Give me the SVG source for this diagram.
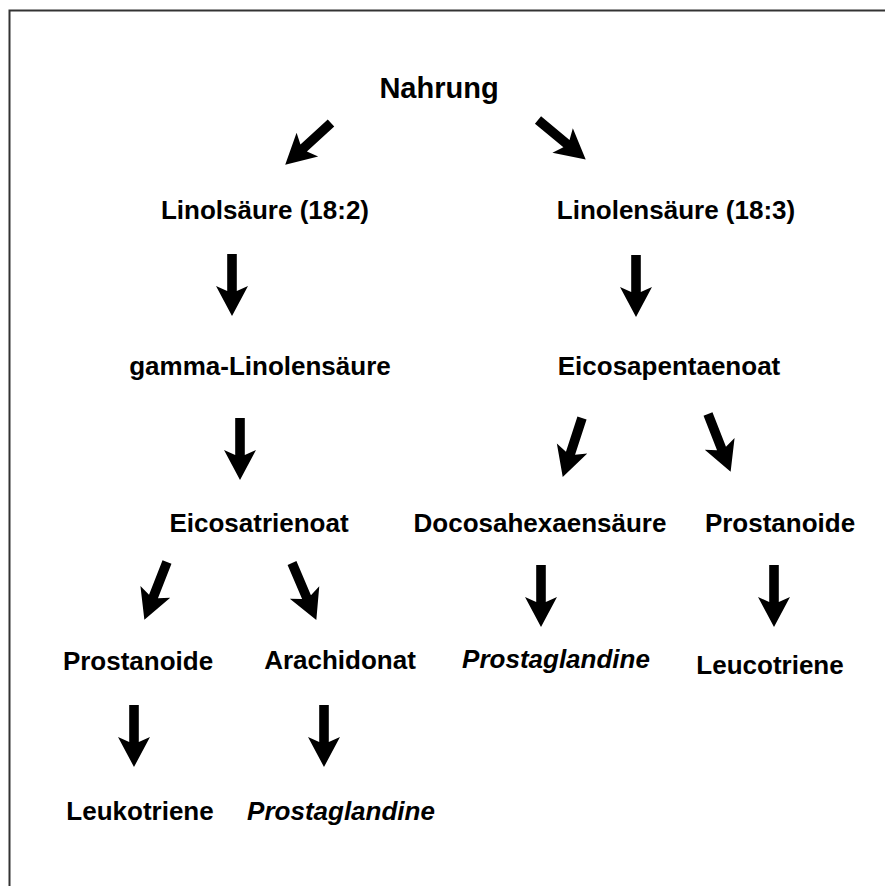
<svg xmlns="http://www.w3.org/2000/svg" xmlns:xlink="http://www.w3.org/1999/xlink" width="885" height="886" viewBox="0 0 885 886">
<style>
text{font-family:"Liberation Sans",Arial,Helvetica,sans-serif;font-weight:bold;font-size:26px;fill:#000;text-anchor:middle}
.it{font-style:italic}
.big{font-size:29px}
.frame{stroke:#333;stroke-width:2;fill:none}
.arr{fill:#000}
</style>
<defs>
<path id="ar" d="M-4.8,0 L4.8,0 L4.8,37 L16,32 L0,62 L-16,32 L-4.8,37 Z"/>
</defs>
<rect width="885" height="886" fill="#fff"/>
<path class="frame" d="M9.5,886 L9.5,10.5 L885,10.5"/>
<g id="connectors" class="arr">
<use xlink:href="#ar" transform="translate(331,123) rotate(47.6)"/>
<use xlink:href="#ar" transform="translate(538,120) rotate(-50.3)"/>
<use xlink:href="#ar" transform="translate(232,254)"/>
<use xlink:href="#ar" transform="translate(636,255)"/>
<use xlink:href="#ar" transform="translate(240,418)"/>
<use xlink:href="#ar" transform="translate(582,418) rotate(18.1)"/>
<use xlink:href="#ar" transform="translate(708,414) rotate(-21.4)"/>
<use xlink:href="#ar" transform="translate(167,562) rotate(21.4)"/>
<use xlink:href="#ar" transform="translate(292,563) rotate(-23.1)"/>
<use xlink:href="#ar" transform="translate(541,565)"/>
<use xlink:href="#ar" transform="translate(774,565)"/>
<use xlink:href="#ar" transform="translate(134,705)"/>
<use xlink:href="#ar" transform="translate(324,705)"/>
</g>
<g id="nahrung"><text class="big" x="439" y="98">Nahrung</text></g>
<g id="linolsaeure"><text x="265" y="219">Linolsäure (18:2)</text></g>
<g id="linolensaeure"><text x="676" y="219">Linolensäure (18:3)</text></g>
<g id="gamma-linolensaeure"><text x="260" y="375">gamma-Linolensäure</text></g>
<g id="eicosapentaenoat"><text x="669" y="375">Eicosapentaenoat</text></g>
<g id="eicosatrienoat"><text x="259" y="532">Eicosatrienoat</text></g>
<g id="docosahexaensaeure"><text x="540" y="532">Docosahexaensäure</text></g>
<g id="prostanoide-right"><text x="780" y="532">Prostanoide</text></g>
<g id="prostanoide-left"><text x="138" y="670">Prostanoide</text></g>
<g id="arachidonat"><text x="340" y="669">Arachidonat</text></g>
<g id="prostaglandine-mid"><text class="it" x="556" y="668">Prostaglandine</text></g>
<g id="leucotriene"><text x="770" y="674">Leucotriene</text></g>
<g id="leukotriene"><text x="140" y="820">Leukotriene</text></g>
<g id="prostaglandine-bottom"><text class="it" x="341" y="820">Prostaglandine</text></g>
</svg>
